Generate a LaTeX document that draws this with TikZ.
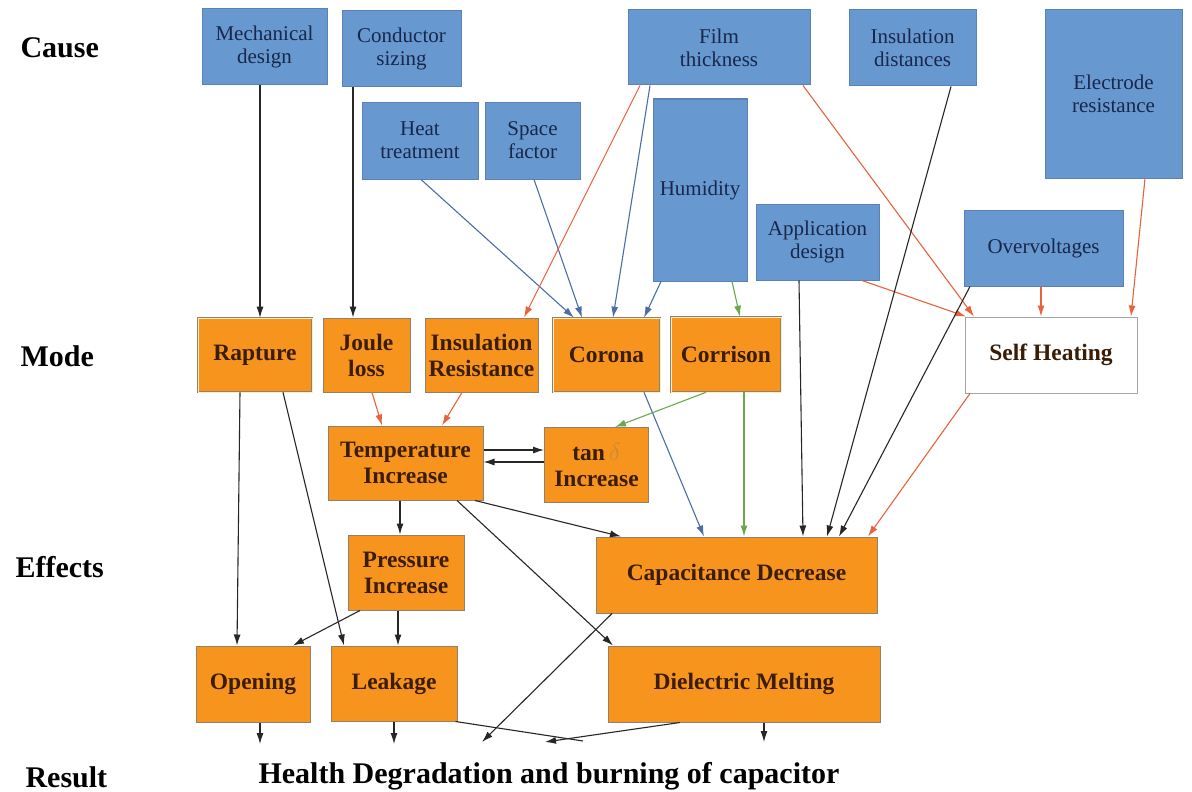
\documentclass[tikz,border=0pt]{standalone}
\usepackage{fontspec}
\setmainfont{Liberation Serif}
\usetikzlibrary{arrows.meta}
\definecolor{causeblue}{HTML}{6898D0}
\definecolor{causeedge}{HTML}{5A82B4}
\definecolor{causetext}{HTML}{18274A}
\definecolor{modeorange}{HTML}{F7941D}
\definecolor{modeedge}{HTML}{928068}
\definecolor{modetext}{HTML}{3A1D04}
\definecolor{ringcolor}{HTML}{FBEFC8}
\definecolor{redline}{HTML}{E8623C}
\definecolor{blueline}{HTML}{4A6FA6}
\definecolor{greenline}{HTML}{6BA84C}
\definecolor{deltac}{HTML}{C98A3A}
\tikzset{wh/.style 2 args={minimum width=#1pt,minimum height=#2pt}}

\begin{document}
\begin{tikzpicture}[x=1pt,y=-1pt,>={Latex[length=11pt,width=7pt]},
		cause/.style={draw=causeedge,fill=causeblue,line width=1pt,text=causetext,
			align=center,inner sep=2pt,font=\fontsize{21}{23}\selectfont},
		mode/.style={draw=modeedge,fill=modeorange,line width=1pt,text=modetext,
			align=center,inner sep=1pt,font=\bfseries\fontsize{23.5}{26}\selectfont},
		ring/.style={mode,double=ringcolor,double distance=1pt,line width=0.6pt},
		level/.style={anchor=base west,font=\bfseries\fontsize{30}{32}\selectfont},
		blk/.style={->,line width=1.1pt,black!85},
		redarr/.style={->,line width=1.1pt,redline},
		bluearr/.style={->,line width=1.1pt,blueline},
		greenarr/.style={->,line width=1.1pt,greenline},
		noarr/.style={line width=1.1pt,black!85}]
	\useasboundingbox (0,0) rectangle (1192,792);
	\node[level] (cause) at (17,58) {Cause};
	\node[level] (mode) at (17,366) {Mode};
	\node[level] (effects) at (12,577) {Effects};
	\node[level] (result) at (22,787) {Result};
	\node[anchor=base,font=\bfseries\fontsize{30}{32}\selectfont] (health) at (549,783)
		{Health Degradation and burning of capacitor};
	\node[cause,wh={125}{76}] (mech) at (264.5,47) {Mechanical\\design};
	\node[cause,wh={119}{76}] (cond) at (401.5,49) {Conductor\\sizing};
	\node[cause,wh={116}{77}] (heat) at (420,140.5) {Heat\\treatment};
	\node[cause,wh={95}{77}] (space) at (532.5,140.5) {Space\\factor};
	\node[cause,wh={182}{75}] (film) at (719,47.5) {Film\\thickness};
	\node[cause,wh={127}{76}] (insdist) at (912.5,48) {Insulation\\distances};
	\node[cause,wh={137}{168}] (elec) at (1113.5,94) {Electrode\\resistance};
	\node[cause,wh={94}{182}] (humid) at (700,190) {Humidity};
	\node[cause,wh={123}{76}] (appl) at (817.5,242) {Application\\design};
	\node[cause,wh={159}{76}] (overv) at (1043.5,248) {Overvoltages};
	\node[ring,wh={114}{74}] (rapt) at (255,355) {Rapture};
	\node[mode,wh={87}{74}] (joule) at (366.5,355) {Joule\\loss};
	\node[mode,wh={113}{74}] (insres) at (481.5,355) {Insulation\\Resistance};
	\node[ring,wh={107}{74}] (corona) at (606.5,355) {Corona};
	\node[ring,wh={110}{75}] (corr) at (726,354.5) {Corrison};
	\node[mode,fill=white,draw=gray!70,wh={172}{76}] (selfh) at (1051,355) {Self Heating};
	\node[mode,wh={155}{74}] (temp) at (405.5,463) {Temperature\\Increase};
	\node[mode,wh={104}{75}] (tand) at (596.5,465) {tan\,{\color{deltac}$\delta$}\\Increase};
	\node[mode,wh={116}{75}] (press) at (406,572.5) {Pressure\\Increase};
	\node[mode,wh={281}{76}] (capd) at (736.5,575) {Capacitance Decrease};
	\node[mode,wh={114}{76}] (open) at (253,684) {Opening};
	\node[mode,wh={126}{75}] (leak) at (394,683.5) {Leakage};
	\node[mode,wh={272}{76}] (diel) at (744,684) {Dielectric Melting};
	\coordinate (r1) at (260,744);
	\coordinate (r2) at (394,744);
	\coordinate (r3) at (482,742);
	\coordinate (r4) at (583,741);
	\coordinate (r5) at (545,742);
	\coordinate (r6) at (764,742);
	\draw[blk] ([xshift=-4.5]mech.south) -- ([xshift=5]rapt.north);
	\draw[blk] ([xshift=-48.5]cond.south) -- ([xshift=-13.5]joule.north);
	\draw[bluearr] ([xshift=1]heat.south) -- ([xshift=-32.5]corona.north);
	\draw[bluearr] ([xshift=1.5]space.south) -- ([xshift=-24.5]corona.north);
	\draw[redarr] ([xshift=-79]film.south) -- ([xshift=42.5]insres.north);
	\draw[bluearr] ([xshift=-69]film.south) -- ([xshift=6.5]corona.north);
	\draw[bluearr] ([xshift=-39]humid.south) -- ([xshift=37.5]corona.north);
	\draw[greenarr] ([xshift=32]humid.south) -- ([xshift=14]corr.north);
	\draw[redarr] ([xshift=84]film.south) -- ([xshift=-77]selfh.north);
	\draw[redarr] ([xshift=44.5]appl.south) -- ([xshift=-85]selfh.north);
	\draw[redarr] ([xshift=-2.5]overv.south) -- ([xshift=-10]selfh.north);
	\draw[redarr] ([xshift=31.5]elec.south) -- ([xshift=80]selfh.north);
	\draw[blk] ([xshift=38.5]insdist.south) -- ([xshift=90.5]capd.north);
	\draw[blk] ([xshift=-18.5]appl.south) -- ([xshift=66.5]capd.north);
	\draw[blk] ([xshift=-73.5]overv.south) -- ([xshift=102.5]capd.north);
	\draw[redarr] ([xshift=-81]selfh.south) -- ([xshift=131.5]capd.north);
	\draw[bluearr] ([xshift=37.5]corona.south) -- ([xshift=-32.5]capd.north);
	\draw[greenarr] ([xshift=18]corr.south) -- ([xshift=7.5]capd.north);
	\draw[greenarr] ([xshift=-20]corr.south) -- ([xshift=18.5]tand.north);
	\draw[redarr] ([xshift=5.5]joule.south) -- ([xshift=-23.5]temp.north);
	\draw[redarr] ([xshift=-19.5]insres.south) -- ([xshift=36.5]temp.north);
	\draw[blk] ([yshift=13]temp.east) -- ([yshift=15]tand.west);
	\draw[blk] ([yshift=3]tand.west) -- ([yshift=1]temp.east);
	\draw[blk] ([xshift=-5.5]temp.south) -- ([xshift=-6]press.north);
	\draw[blk] ([xshift=69.5]temp.south) -- ([xshift=-115.5]capd.north);
	\draw[blk] ([xshift=51.5]temp.south) -- ([xshift=-131]diel.north);
	\draw[blk] ([xshift=-15]rapt.south) -- ([xshift=-16]open.north);
	\draw[blk] ([xshift=28]rapt.south) -- ([xshift=-50]leak.north);
	\draw[blk] ([xshift=-46]press.south) -- ([xshift=40]open.north);
	\draw[blk] ([xshift=-8]press.south) -- ([xshift=4]leak.north);
	\draw[blk] ([xshift=7]open.south) -- (r1);
	\draw[blk] (leak.south) -- (r2);
	\draw[blk] ([xshift=-124.5]capd.south) -- (r3);
	\draw[noarr] ([xshift=-2]leak.south east) -- (r4);
	\draw[blk] ([xshift=-64]diel.south) -- (r5);
	\draw[blk] ([xshift=20]diel.south) -- (r6);
\end{tikzpicture}
\end{document}
